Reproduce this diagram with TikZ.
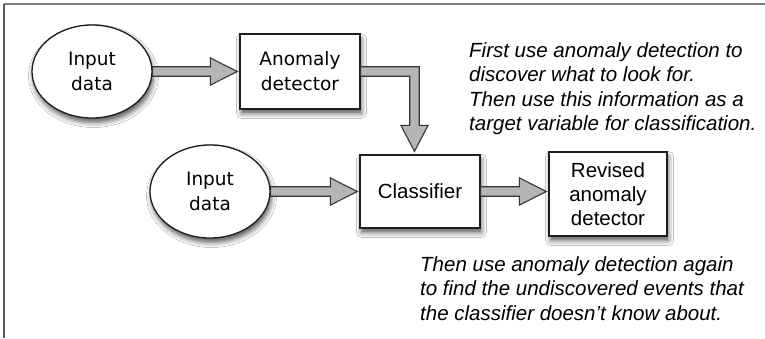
\documentclass[tikz,border=0pt]{standalone}
\usepackage{fontspec}
\setmainfont{Liberation Sans}
\newfontfamily\grandefont{DejaVu Sans}
\usetikzlibrary{shapes.geometric,shadows.blur,calc}

\definecolor{inkc}{HTML}{1E1E1E}
\definecolor{pipe}{HTML}{B5B5B5}
\definecolor{framec}{HTML}{5A5A5A}

% block arrow dimensions: shaft half width, head half width, head length, gap
\def\sh{4.75pt}
\def\hw{13.6pt}
\def\hl{27pt}
\def\gp{2pt}

% horizontal block arrow from anchor #1 to the x of anchor #2
\newcommand\hblockarrow[2]{%
  \draw[pipestyle] let \p1=(#1), \p2=(#2) in
    (\x1,\y1+\sh) -- (\x2-\hl-\gp,\y1+\sh) -- (\x2-\hl-\gp,\y1+\hw) --
    (\x2-\gp,\y1) -- (\x2-\hl-\gp,\y1-\hw) -- (\x2-\hl-\gp,\y1-\sh) --
    (\x1,\y1-\sh) -- cycle;}

\tikzset{
  softshadow/.style={blur shadow={shadow xshift=1.5pt, shadow yshift=-4.5pt,
      shadow blur radius=5pt, shadow opacity=65}},
  stepbox/.style={draw=inkc, line width=1.3pt, fill=white, inner sep=0pt,
      minimum width=120pt, minimum height=75pt, align=center, softshadow},
  datablob/.style={ellipse, draw=inkc, line width=1.3pt, fill=white, inner sep=0pt,
      minimum width=120pt, minimum height=93pt, align=center, softshadow,
      font=\grandefont\fontsize{18.5}{25}\selectfont},
  pipestyle/.style={draw=inkc!90, line width=1.1pt, fill=pipe, line join=miter},
  % the base anchor of a multi-line note sits on its last line
  note/.style={align=left, anchor=base west, inner sep=0pt,
      font=\itshape\fontsize{20.5}{24.5}\selectfont},
}

\begin{document}
\begin{tikzpicture}[x=1pt,y=-1pt]
  \useasboundingbox (0,0) rectangle (765,338);
  \fill[white] (0,0) rectangle (765,338);

  % frame lines
  \draw[framec!80, line width=1.4pt] (4,4) -- (765,4);
  \draw[framec, line width=1.6pt] (4,4) -- (4,338);

  % nodes
  \node[datablob] (in1) at (92,71.5) {Input\\data};
  \node[stepbox, font=\grandefont\fontsize{18.5}{25}\selectfont] (det) at (300,71.5) {Anomaly\\detector};
  \node[datablob] (in2) at (210,191.5) {Input\\data};
  \node[stepbox, minimum height=73pt, font=\fontsize{20.5}{24}\selectfont] (cls) at (420,191.5) {Classifier};
  \node[stepbox, minimum width=118pt, minimum height=84pt, font=\fontsize{20.5}{24}\selectfont] (rev) at (608,194) {Revised\\anomaly\\detector};

  % connectors
  \hblockarrow{in1.east}{det.west}
  \hblockarrow{in2.east}{cls.west}
  \hblockarrow{cls.east}{rev.west}

  \coordinate (bend) at (414.5,71.5);
  \draw[pipestyle] let \p1=(det.east), \p2=(bend), \p3=(cls.north) in
    (\x1,\y1+\sh) -- (\x2+\sh,\y1+\sh) -- (\x2+\sh,\y3+\hl+\gp) --
    (\x2+\hw,\y3+\hl+\gp) -- (\x2,\y3+\gp+1pt) -- (\x2-\hw,\y3+\hl+\gp) --
    (\x2-\sh,\y3+\hl+\gp) -- (\x2-\sh,\y1-\sh) -- (\x1,\y1-\sh) -- cycle;

  % notes
  \node[note] (n1) at (469,130.5) {First use anomaly detection to\\discover what to look for.\\Then use this information as a\\target variable for classification.};
  \node[note] (n2) at (420,320) {Then use anomaly detection again\\to find the undiscovered events that\\the classifier doesn\char"27 t know about.};
\end{tikzpicture}
\end{document}
